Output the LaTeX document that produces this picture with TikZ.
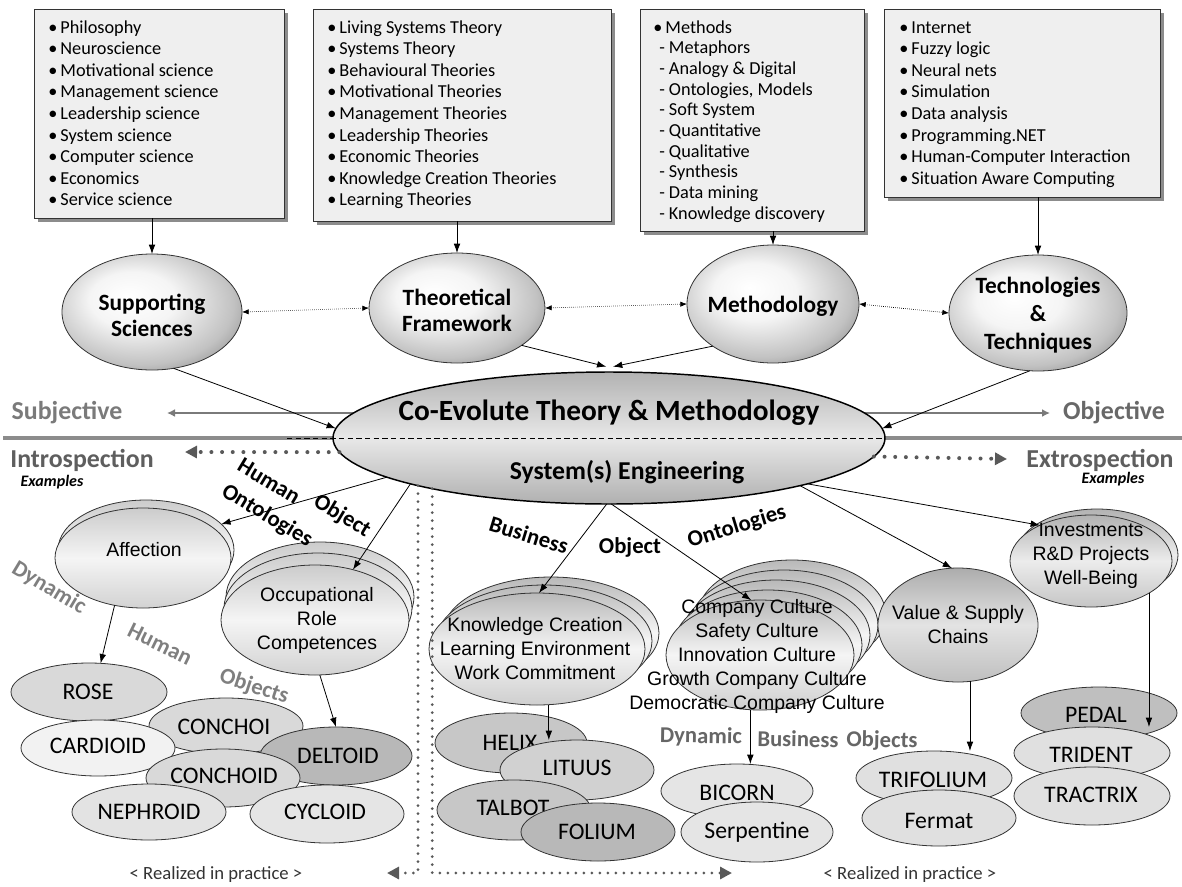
\documentclass[tikz,border=0pt]{standalone}
\usepackage{fontspec}
\setmainfont{Carlito}
\newfontfamily\arialf{Liberation Sans}
\usetikzlibrary{arrows.meta,shapes.geometric,shadows}
\definecolor{boxfill}{HTML}{EFEFEF}
\definecolor{edge}{HTML}{333333}
\definecolor{subj}{HTML}{7A7A7A}
\definecolor{intro}{HTML}{5E5E5E}
\definecolor{dotc}{HTML}{595959}
\definecolor{lblgray}{HTML}{7F7F7F}
\definecolor{lblgrayb}{HTML}{666666}
\pgfdeclareradialshading{topball}{\pgfpoint{-7bp}{7bp}}{color(0bp)=(white); color(12bp)=(white!96!black); color(26bp)=(white!76!black); color(34bp)=(white!55!black); color(50bp)=(white!55!black)}
\begin{document}
\begin{tikzpicture}[x=0.75pt,y=-0.75pt,
  ellxy/.style 2 args={ellipse, minimum width={1.5*#1pt}, minimum height={1.5*#2pt}, inner sep=0pt, outer sep=0pt},
  tbox/.style={draw=edge, fill=boxfill, line width=0.7pt, inner sep=0pt, outer sep=0pt,
     drop shadow={shadow xshift=3pt, shadow yshift=-3pt, fill=black!45, opacity=1}},
  btxt/.style={anchor=base west, inner sep=0pt, font=\fontsize{13.7}{16}\selectfont},
  topell/.style={draw=edge, line width=0.6pt, shade, shading=topball},
  toplbl/.style={font=\bfseries\fontsize{17.5}{19.5}\selectfont, align=center, inner sep=0pt},
  stack/.style={draw=edge, line width=0.6pt, top color=gray!55, bottom color=gray!38, middle color=gray!8},
  stackl/.style={draw=edge, line width=0.6pt, top color=gray!40, bottom color=gray!35, middle color=gray!8},
  curve/.style={draw=edge, line width=0.6pt, fill=#1},
  cname/.style={font=\fontsize{17.8}{20}\selectfont, inner sep=0pt},
  alb/.style={font=\arialf\fontsize{14.6}{18}\selectfont, align=center, inner sep=0pt},
  arr/.style={line width=0.6pt, -{Latex[length=7pt,width=5pt]}},
  darr/.style={line width=0.5pt, densely dotted, {Latex[length=5pt,width=4pt]}-{Latex[length=5pt,width=4pt]}},
  garr/.style={draw=subj, line width=1.5pt, -{Latex[length=6pt,width=6pt]}},
  bigdots/.style={draw=dotc, line width=3pt, line cap=round, dash pattern=on 0pt off 8pt, -{Triangle[length=9pt,width=9pt]}},
  smalldots/.style={draw=dotc, line width=2.3pt, line cap=round, dash pattern=on 0pt off 6pt, -{Triangle[length=9pt,width=9pt]}},
  blk/.style={font=\bfseries\fontsize{17}{20}\selectfont, inner sep=0pt},
  gbl/.style={font=\bfseries\fontsize{17}{20}\selectfont, text=lblgray, inner sep=0pt},
  side/.style={font=\bfseries\fontsize{19.4}{22}\selectfont, inner sep=0pt},
]
\useasboundingbox (0,0) rectangle (1182,886);
% ---------- top boxes ----------
\node[tbox, minimum width=187.5pt, minimum height=156.75pt] (box1) at (159,113.5) {};
\node[tbox, minimum width=223.5pt, minimum height=159pt] (box2) at (462,115) {};
\node[tbox, minimum width=168pt, minimum height=166.5pt] (box3) at (752,120) {};
\node[tbox, minimum width=207pt, minimum height=141pt] (box4) at (1022,103) {};
\foreach \t [count=\i] in {Philosophy,Neuroscience,Motivational science,Management science,Leadership science,System science,Computer science,Economics,Service science}
  \node[btxt] (ba\i) at (48,{33+21.6*(\i-1)}) {•\,\t};
\foreach \t [count=\i] in {Living Systems Theory,Systems Theory,Behavioural Theories,Motivational Theories,Management Theories,Leadership Theories,Economic Theories,Knowledge Creation Theories,Learning Theories}
  \node[btxt] (bb\i) at (327,{33+21.6*(\i-1)}) {•\,\t};
\node[btxt] (bc0) at (653,33) {•\,Methods};
\foreach \t [count=\i] in {Metaphors,Analogy \& Digital,{Ontologies, Models},Soft System,Quantitative,Qualitative,Synthesis,Data mining,Knowledge discovery}
  \node[btxt] (bc\i) at (659,{33+20.7*\i}) {- \t};
\foreach \t [count=\i] in {Internet,Fuzzy logic,Neural nets,Simulation,Data analysis,Programming.NET,Human-Computer Interaction,Situation Aware Computing}
  \node[btxt] (bd\i) at (899,{33+21.6*(\i-1)}) {•\,\t};
% ---------- top ellipses ----------
\node[topell, ellxy={90}{58}] (supp) at (152,312) {};
\node[toplbl] (suppt) at (152,315) {Supporting\\Sciences};
\node[topell, ellxy={88}{55}] (theo) at (457,308) {};
\node[toplbl] (theot) at (457,310) {Theoretical\\Framework};
\node[topell, ellxy={86}{59}] (meth) at (773,304) {};
\node[toplbl] (metht) at (773,306) {Methodology};
\node[topell, ellxy={89}{58}] (tech) at (1038,313) {};
\node[toplbl, font=\bfseries\fontsize{17.5}{21}\selectfont] (techt) at (1038,315) {Technologies\\\&\\Techniques};
\draw[arr] (box1.south -| supp.north) -- (supp.north);
\draw[arr] (box2.south -| theo.north) -- (theo.north);
\draw[arr] (box3.south -| meth.north) -- (meth.north);
\draw[arr] (box4.south -| tech.north) -- (tech.north);
\draw[darr] (supp.east) -- (theo.west);
\draw[darr] (theo.east) -- (meth.west);
\draw[darr] (meth.east) -- (tech.west);
% ---------- divider and big ellipse ----------
\coordinate (subjtip) at (167,413);
\coordinate (objtip) at (1050,413);
\coordinate (lineL) at (3,438);
\coordinate (lineR) at (1182,438);
\coordinate (bigc) at (609,438);
\draw[draw=black!45, line width=3pt] (lineL) -- (lineR);
\draw[garr] (bigc |- subjtip) -- (subjtip);
\draw[garr] (bigc |- objtip) -- (objtip);
\node[ellxy={276}{66}, draw=black, line width=1.1pt, top color=gray!60, bottom color=gray!62, middle color=gray!18] (big) at (bigc) {};
\node[font=\bfseries\fontsize{22}{24}\selectfont, inner sep=0pt] (bigt1) at (609,413) {Co-Evolute Theory \& Methodology};
\node[font=\bfseries\fontsize{19.3}{22}\selectfont, inner sep=0pt] (bigt2) at (627,472) {System(s) Engineering};
\coordinate (dashL) at (287,438);
\draw[line width=0.6pt, dash pattern=on 4pt off 2.5pt] (dashL) -- (big.east);
\draw[arr] (theo.-30) -- ([xshift=-2pt,yshift=4pt]big.north);
\draw[arr] (meth.215) -- ([xshift=3pt,yshift=4pt]big.north);
\draw[arr] (supp.-69) -- (big.178);
\draw[arr] (tech.-98) -- (big.2);
% side labels
\node[side, text=subj] (subjl) at (67,413) {Subjective};
\node[side, text=subj!85!black] (objl) at (1114,413) {Objective};
\node[side, text=intro] (introl) at (82,460) {Introspection};
\node[side, text=intro] (extrol) at (1100,460) {Extrospection};
\node[font=\bfseries\itshape\fontsize{12}{13}\selectfont, inner sep=0pt] (exl) at (52,482) {Examples};
\node[font=\bfseries\itshape\fontsize{12}{13}\selectfont, inner sep=0pt] (exr) at (1113,479) {Examples};
% ---------- stacks ----------
\node[stackl, ellxy={88}{50}] (affb) at (146,550) {};
\node[stackl, ellxy={88}{50}] (aff) at (143,558) {};
\node[alb] (afft) at (144,550) {Affection};
\node[stackl, ellxy={94}{55}] (occb2) at (320,597) {};
\node[stackl, ellxy={94}{55}] (occb1) at (318,608) {};
\node[stackl, ellxy={94}{55}] (occ) at (315,620) {};
\node[alb] (occt) at (317,620) {Occupational\\Role\\Competences};
\node[stack, ellxy={108}{56}] (kcb2) at (551,633) {};
\node[stack, ellxy={108}{56}] (kcb1) at (544,641) {};
\node[stack, ellxy={108}{56}] (kc) at (537,649) {};
\node[alb] (kct) at (535,649) {Knowledge Creation\\Learning Environment\\Work Commitment};
\foreach \k in {4,3,2,1} \node[stack, ellxy={94}{55}] (ccb\k) at ({760+8*\k},{655-10*\k}) {};
\node[stack, ellxy={94}{55}] (cc) at (760,655) {};
\node[alb] (cct) at (757,656) {Company Culture\\Safety Culture\\Innovation Culture\\Growth Company Culture\\Democratic Company Culture};
\node[stack, ellxy={80}{57}, top color=gray!65, bottom color=gray!50, middle color=gray!22] (vsc) at (958,625) {};
\node[alb] (vsct) at (958,625) {Value \& Supply\\Chains};
\node[stack, ellxy={81}{46}, top color=gray!60, bottom color=gray!45, middle color=gray!15] (invb) at (1097,555) {};
\node[stack, ellxy={81}{46}, top color=gray!60, bottom color=gray!45, middle color=gray!15] (inv) at (1091,561) {};
\node[alb] (invt) at (1091,556) {Investments\\R\&D Projects\\Well-Being};
% ---------- curve ellipses ----------
\node[curve={black!15}, ellxy={78}{29}] (rose) at (89,692) {};
\node[cname] (roset) at (88,692) {ROSE};
\node[curve={black!15}, ellxy={77}{28}] (conchoi) at (226,726) {};
\node[cname] (conchoit) at (224,727) {CONCHOI};
\node[curve={black!5}, ellxy={77}{28}] (card) at (98,748) {};
\node[cname] (cardt) at (98,746) {CARDIOID};
\node[curve={black!28}, ellxy={76}{29}] (delt) at (336,756) {};
\node[cname] (deltt) at (338,756) {DELTOID};
\node[curve={black!15}, ellxy={77}{29}] (conchoid) at (223,778) {};
\node[cname] (conchoidt) at (224,776) {CONCHOID};
\node[curve={black!11}, ellxy={77}{28}] (neph) at (149,812) {};
\node[cname] (nepht) at (149,812) {NEPHROID};
\node[curve={black!10}, ellxy={77}{29}] (cycl) at (327,814) {};
\node[cname] (cyclt) at (325,812) {CYCLOID};
\node[curve={black!22}, ellxy={76}{30}] (helix) at (511,743) {};
\node[cname] (helixt) at (510,743) {HELIX};
\node[curve={black!18}, ellxy={77}{30}] (lit) at (577,770) {};
\node[cname] (litt) at (577,768) {LITUUS};
\node[curve={black!22}, ellxy={77}{30}] (talb) at (514,810) {};
\node[cname] (talbt) at (513,808) {TALBOT};
\node[curve={black!28}, ellxy={77}{29}] (fol) at (598,832) {};
\node[cname] (folt) at (597,832) {FOLIUM};
\node[curve={black!10}, ellxy={76}{27}] (bic) at (737,791) {};
\node[cname] (bict) at (737,793) {BICORN};
\node[curve={black!10}, ellxy={76}{30}] (serp) at (757,832) {};
\node[cname] (serpt) at (757,832) {Serpentine};
\node[curve={black!12}, ellxy={78}{27}] (trif) at (934,778) {};
\node[cname] (trift) at (933,780) {TRIFOLIUM};
\node[curve={black!12}, ellxy={77}{28}] (ferm) at (939,818) {};
\node[cname] (fermt) at (939,821) {Fermat};
\node[curve={black!25}, ellxy={78}{26}] (pedal) at (1099,713) {};
\node[cname] (pedalt) at (1096,715) {PEDAL};
\node[curve={black!12}, ellxy={78}{26}] (trid) at (1092,753) {};
\node[cname] (tridt) at (1091,755) {TRIDENT};
\node[curve={black!12}, ellxy={78}{29}] (tract) at (1092,796) {};
\node[cname] (tractt) at (1091,795) {TRACTRIX};
% ---------- connectors ----------
\draw[arr] (big.190) -- (affb.19);
\draw[arr] (big.193) -- (occ.53);
\draw[arr] (aff.239) -- (rose.68);
\draw[arr] (occ.-85) -- (delt.north);
\draw[arr] (big.268) -- (kc.88);
\draw[arr] (big.272) -- (cc.99);
\draw[arr] (big.-14) -- (vsc.96);
\draw[arr] (big.-13) -- (inv.145);
\draw[arr] (kc.-78) -- (kc.-78 |- lit.north);
\draw[arr] (cc.-100) -- (cc.-100 |- bic.north);
\draw[arr] (vsc.-78) -- (vsc.-78 |- trif.north);
\draw[arr] (inv.-29) -- (inv.-29 |- trid.north);
% dotted arrows
\coordinate (introtip) at (185,452);
\coordinate (extrotip) at (1007,459);
\coordinate (bltip) at (387,873);
\coordinate (brtip) at (732,873);
\draw[bigdots] (big.183) -- (introtip);
\draw[bigdots] (big.-4) -- (extrotip);
\draw[smalldots] (big.194) -- (big.194 |- bltip) -- (bltip);
\draw[smalldots] (big.196) -- (big.196 |- brtip) -- (brtip);
% ---------- rotated labels ----------
\node[blk, rotate=-31] (hum) at (269,481) {Human};
\node[blk, rotate=-31] (obj) at (342,516) {Object};
\node[blk, rotate=-31] (ont) at (267,516) {Ontologies};
\node[gbl, rotate=-31] (dyn1) at (49,588) {Dynamic};
\node[gbl, rotate=-26] (hum2) at (160,644) {Human};
\node[gbl, rotate=-18] (objs1) at (254,687) {Objects};
\node[blk, rotate=-17] (bus) at (529,535) {Business};
\node[blk] (obj2) at (630,547) {Object};
\node[blk, rotate=17] (ont2) at (737,527) {Ontologies};
\node[gbl, text=lblgrayb, rotate=-1] (dyn2) at (701,737) {Dynamic};
\node[gbl, text=lblgrayb, rotate=-1] (bus2) at (798,739) {Business};
\node[gbl, text=lblgrayb, rotate=-1] (objs2) at (882,741) {Objects};
\node[font=\fontsize{14}{16}\selectfont, text=black!80, inner sep=0pt] (real1) at (216,875) {< Realized in practice >};
\node[font=\fontsize{14}{16}\selectfont, text=black!80, inner sep=0pt] (real2) at (910,875) {< Realized in practice >};
\end{tikzpicture}
\end{document}
